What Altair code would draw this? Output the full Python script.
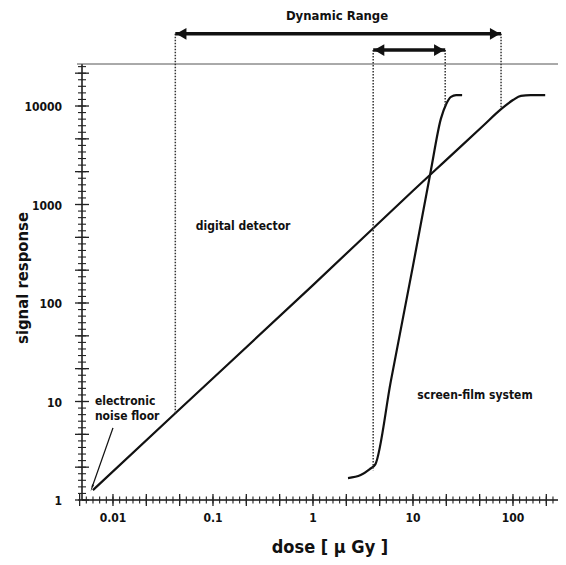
import altair as alt
import pandas as pd

# ---------------- data ----------------
digital_dose = [0.0063, 0.042, 1.0, 10.0, 20.0, 50.0, 76.0, 100.0, 120.0, 150.0, 210.0]
digital_signal = [1.26, 7.6, 152, 1380, 2650, 6270, 9300, 11500, 12700, 12900, 12900]

film_dose = [2.24, 3.0, 3.7, 4.2, 6.0, 10.0, 15.0, 19.0, 21.5, 24.0, 27.0, 31.0]
film_signal = [1.67, 1.79, 2.06, 2.3, 16, 238, 2140, 7400, 10500, 12400, 12900, 12900]

# dynamic range markers: low / high dose, arrow level, where dotted lines end
range_lo = [0.042, 4.0]
range_hi = [76.0, 21.0]
range_level = [54000, 37000]
range_lo_end = [7.6, 2.0]
range_hi_end = [9300, 10200]

# annotation texts
title_text = ["Dynamic Range"]
title_x = [1.74]
title_y = [82000]
center_text = ["digital detector", "screen-film system"]
center_x = [0.2, 41.7]
center_y = [607, 11.6]
left_text = ["electronic", "noise floor"]
left_x = [0.0066, 0.0066]
left_y = [10.1, 7.1]
noise_arrow_x = [0.0100, 0.0062]
noise_arrow_y = [5.4, 1.36]

# axes: labels, titles and tick positions
x_label_values = [0.01, 0.1, 1, 10, 100]
x_label_text = ["0.01", "0.1", "1", "10", "100"]
y_label_values = [1, 10, 100, 1000, 10000]
y_label_text = ["1", "10", "100", "1000", "10000"]
x_title = "dose [ μ Gy ]"
y_title = "signal response"
x_major = [10 ** (k / 3) for k in range(-7, 8)]
y_major = [10 ** (k / 3) for k in range(0, 14)]
x_minor = [10 ** (k / 15) for k in range(-34, 37)]
y_minor = [10 ** (k / 15) for k in range(0, 67)]

XMIN, XMAX = 0.0049, 282
YMIN, YMAX = 1, 26700
W, H = 476, 436
INK = "#111111"
FONT = "DejaVu Sans Condensed, DejaVu Sans, sans-serif"

xs = alt.Scale(type="log", domain=[XMIN, XMAX], nice=False)
ys = alt.Scale(type="log", domain=[YMIN, YMAX], nice=False)

dig = pd.DataFrame({"dose": digital_dose, "signal": digital_signal})
film = pd.DataFrame({"dose": film_dose, "signal": film_signal})
one = pd.DataFrame({"k": [0]})


def X(f):
    return alt.X(f, type="quantitative", scale=xs, axis=None)


def Y(f):
    return alt.Y(f, type="quantitative", scale=ys, axis=None)


layers = []

# curves
layers.append(
    alt.Chart(dig).mark_line(color=INK, strokeWidth=2.2, interpolate="monotone").encode(
        x=X("dose"), y=Y("signal"))
)
layers.append(
    alt.Chart(film).mark_line(color=INK, strokeWidth=2.2, interpolate="monotone").encode(
        x=X("dose"), y=Y("signal"))
)

# axis lines
layers.append(
    alt.Chart(one).mark_rule(color=INK, strokeWidth=1.5).encode(
        x=alt.value(0), x2=alt.value(W), y=alt.value(H))
)
layers.append(
    alt.Chart(one).mark_rule(color=INK, strokeWidth=1.5).encode(
        x=alt.value(0), y=alt.value(0), y2=alt.value(H))
)
# top frame line
layers.append(
    alt.Chart(one).mark_rule(color="#555555", strokeWidth=1).encode(
        x=alt.value(-5), x2=alt.value(W + 10), y=alt.value(0))
)

# crossing tick marks on both axes
for vals, half, wdt in [(x_major, 6, 1.3), (x_minor, 3.5, 1.1)]:
    tdf = pd.DataFrame({"v": vals})
    layers.append(
        alt.Chart(tdf).mark_rule(color="#222222", strokeWidth=wdt).encode(
            x=X("v"), y=alt.value(H - half), y2=alt.value(H + half))
    )
for vals, half, wdt in [(y_major, 7, 1.3), (y_minor, 4, 1.1)]:
    tdf = pd.DataFrame({"v": vals})
    layers.append(
        alt.Chart(tdf).mark_rule(color="#222222", strokeWidth=wdt).encode(
            y=Y("v"), x=alt.value(-half), x2=alt.value(half))
    )

# tick labels
xl = pd.DataFrame({"v": x_label_values, "t": x_label_text})
layers.append(
    alt.Chart(xl).mark_text(font=FONT, fontSize=12, fontWeight="bold", color=INK,
                            align="center", baseline="middle").encode(
        x=X("v"), y=alt.value(H + 18), text="t:N")
)
yl = pd.DataFrame({"v": y_label_values, "t": y_label_text})
layers.append(
    alt.Chart(yl).mark_text(font=FONT, fontSize=12, fontWeight="bold", color=INK,
                            align="right", baseline="middle", dy=1).encode(
        y=Y("v"), x=alt.value(-20), text="t:N")
)

# axis titles
layers.append(
    alt.Chart(pd.DataFrame({"t": [x_title]})).mark_text(
        font=FONT, fontSize=18, fontWeight="bold", color=INK,
        align="center", baseline="middle").encode(
        x=alt.value(248), y=alt.value(H + 48), text="t:N")
)
layers.append(
    alt.Chart(pd.DataFrame({"t": [y_title]})).mark_text(
        font=FONT, fontSize=16.5, fontWeight="bold", color=INK, angle=270,
        align="center", baseline="middle").encode(
        x=alt.value(-59), y=alt.value(214), text="t:N")
)

# dotted guide lines
dots = pd.DataFrame({
    "x": range_lo + range_hi,
    "top": range_level + range_level,
    "bottom": range_lo_end + range_hi_end,
})
layers.append(
    alt.Chart(dots).mark_rule(color="#333333", strokeWidth=1.5, strokeDash=[1.5, 1.5]).encode(
        x=X("x"), y=Y("top"), y2="bottom:Q")
)

# double arrows
arrows = pd.DataFrame({"lo": range_lo, "hi": range_hi, "lvl": range_level})
layers.append(
    alt.Chart(arrows).mark_rule(color=INK, strokeWidth=3.5).encode(
        x=X("lo"), x2="hi:Q", y=Y("lvl"))
)
layers.append(
    alt.Chart(arrows).mark_point(shape="triangle-left", filled=True, color=INK,
                                 opacity=1, size=140, xOffset=6).encode(
        x=X("lo"), y=Y("lvl"))
)
layers.append(
    alt.Chart(arrows).mark_point(shape="triangle-right", filled=True, color=INK,
                                 opacity=1, size=140, xOffset=-6).encode(
        x=X("hi"), y=Y("lvl"))
)

# noise floor arrow
noise = pd.DataFrame({"x": noise_arrow_x, "y": noise_arrow_y})
layers.append(
    alt.Chart(noise).mark_line(color=INK, strokeWidth=1.3).encode(x=X("x"), y=Y("y"))
)
layers.append(
    alt.Chart(noise.tail(1)).mark_point(shape="wedge", angle=200, filled=True,
                                        color=INK, opacity=1, size=70).encode(
        x=X("x"), y=Y("y"))
)

# annotation texts
tdf = pd.DataFrame({"t": title_text, "x": title_x, "y": title_y})
layers.append(
    alt.Chart(tdf).mark_text(font=FONT, fontSize=13, fontWeight="bold", color=INK,
                             align="center", baseline="middle").encode(
        x=X("x"), y=Y("y"), text="t:N")
)
cdf = pd.DataFrame({"t": center_text, "x": center_x, "y": center_y})
layers.append(
    alt.Chart(cdf).mark_text(font=FONT, fontSize=12, fontWeight="bold", color=INK,
                             align="center", baseline="middle").encode(
        x=X("x"), y=Y("y"), text="t:N")
)
ldf = pd.DataFrame({"t": left_text, "x": left_x, "y": left_y})
layers.append(
    alt.Chart(ldf).mark_text(font=FONT, fontSize=12, fontWeight="bold", color=INK,
                             align="left", baseline="middle").encode(
        x=X("x"), y=Y("y"), text="t:N")
)

chart = alt.layer(*layers).properties(
    width=W, height=H,
    autosize=alt.AutoSizeParams(type="none"),
    padding={"left": 74, "top": 56, "right": 0, "bottom": 57},
    background="white",
).configure_view(strokeWidth=0)

chart.save("out.html", embed_options={"renderer": "svg", "actions": False})
